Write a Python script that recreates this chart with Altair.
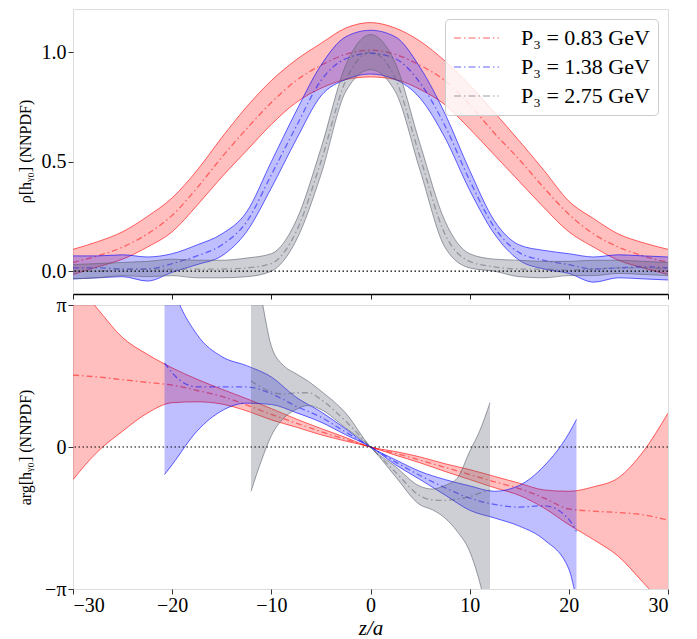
import math
import altair as alt
import pandas as pd

SERIES = ["P₃ = 0.83 GeV", "P₃ = 1.38 GeV", "P₃ = 2.75 GeV"]
COLORS = ["#ff0000", "#0000ff", "#5c6070"]

# ---------------- top panel: |h| ----------------
Z_TOP = [-30, -27.5, -25, -22.5, -20, -17.5, -15, -12.5, -10, -7.5, -5, -2.5, 0,
         2.5, 5, 7.5, 10, 12.5, 15, 17.5, 20, 22.5, 25, 27.5, 30]

RHO_083_LO = [-0.015, 0.02, 0.055, 0.11, 0.18, 0.30, 0.43, 0.55, 0.67, 0.77, 0.835, 0.875, 0.887,
              0.875, 0.83, 0.76, 0.65, 0.53, 0.41, 0.29, 0.18, 0.11, 0.05, 0.015, -0.015]
RHO_083_MID = [0.04, 0.07, 0.11, 0.17, 0.255, 0.38, 0.52, 0.65, 0.77, 0.87, 0.94, 0.99, 1.009,
               0.99, 0.94, 0.87, 0.76, 0.63, 0.51, 0.38, 0.26, 0.17, 0.11, 0.07, 0.04]
RHO_083_HI = [0.10, 0.135, 0.18, 0.25, 0.335, 0.46, 0.61, 0.75, 0.87, 0.965, 1.04, 1.11, 1.135,
              1.11, 1.05, 0.96, 0.85, 0.725, 0.595, 0.46, 0.32, 0.24, 0.17, 0.13, 0.10]

RHO_138_LO = [-0.035, -0.03, -0.025, -0.045, -0.005, 0.03, 0.07, 0.18, 0.38, 0.60, 0.80, 0.875, 0.90,
              0.875, 0.79, 0.61, 0.37, 0.17, 0.05, 0.01, -0.01, -0.05, -0.03, -0.035, -0.04]
RHO_138_MID = [0.015, 0.015, 0.01, 0.01, 0.035, 0.07, 0.12, 0.225, 0.44, 0.66, 0.87, 0.97, 0.995,
               0.97, 0.86, 0.665, 0.415, 0.20, 0.085, 0.05, 0.03, 0.01, 0.015, 0.02, 0.015]
RHO_138_HI = [0.07, 0.07, 0.075, 0.065, 0.08, 0.12, 0.17, 0.27, 0.50, 0.73, 0.94, 1.07, 1.10,
              1.07, 0.93, 0.72, 0.46, 0.23, 0.12, 0.095, 0.08, 0.065, 0.075, 0.07, 0.065]

RHO_275_LO = [-0.035, -0.03, -0.02, -0.025, -0.02, -0.03, -0.03, -0.025, 0.0, 0.14, 0.44, 0.82, 0.92,
              0.82, 0.46, 0.11, 0.015, 0.0, -0.025, -0.03, -0.02, -0.02, -0.01, -0.015, -0.02]
RHO_275_MID = [0.0, 0.0, 0.01, 0.01, 0.01, 0.01, 0.01, 0.015, 0.035, 0.18, 0.50, 0.87, 1.0,
               0.88, 0.52, 0.17, 0.045, 0.02, 0.01, 0.01, 0.005, 0.01, 0.015, 0.015, 0.01]
RHO_275_HI = [0.03, 0.035, 0.04, 0.045, 0.055, 0.05, 0.05, 0.06, 0.08, 0.23, 0.56, 0.94, 1.08,
              0.95, 0.58, 0.23, 0.08, 0.055, 0.05, 0.045, 0.045, 0.05, 0.05, 0.045, 0.04]

# ---------------- bottom panel: arg h ----------------
Z_ARG_083 = [-30, -27.5, -25, -22.5, -20, -17.5, -15, -12.5, -10, -7.5, -5, -2.5, 0,
             2.5, 5, 7.5, 10, 12.5, 15, 17.5, 20, 22.5, 25, 27.5, 30]
ARG_083_LO = [-0.72, -0.10, 0.35, 0.75, 0.98, 1.0, 0.95, 0.80, 0.60, 0.44, 0.27, 0.13, 0.0,
              -0.18, -0.35, -0.54, -0.72, -0.90, -1.07, -1.35, -1.72, -2.05, -2.42, -3.0, -3.6]
ARG_083_MID = [1.59, 1.55, 1.49, 1.43, 1.37, 1.25, 1.12, 0.93, 0.72, 0.53, 0.34, 0.17, 0.0,
               -0.14, -0.29, -0.45, -0.61, -0.77, -0.92, -1.13, -1.37, -1.42, -1.45, -1.50, -1.62]
ARG_083_HI = [3.7, 3.05, 2.42, 2.05, 1.75, 1.50, 1.28, 1.07, 0.85, 0.62, 0.41, 0.21, 0.0,
              -0.10, -0.22, -0.37, -0.50, -0.65, -0.80, -0.95, -0.98, -0.88, -0.68, -0.10, 0.75]

Z_ARG_138 = [-20.77, -20, -17.5, -15, -12.5, -10, -7.5, -5, -2.5, 0,
             2.5, 5, 7.5, 10, 12.5, 15, 17.5, 20, 20.77]
ARG_138_LO = [-0.61, -0.39, 0.35, 0.80, 0.97, 0.94, 0.76, 0.55, 0.27, 0.0,
              -0.39, -0.72, -1.06, -1.40, -1.57, -1.75, -2.05, -2.70, -3.40]
ARG_138_MID = [1.86, 1.64, 1.33, 1.33, 1.33, 1.18, 0.90, 0.66, 0.33, 0.0,
               -0.33, -0.63, -0.90, -1.13, -1.27, -1.33, -1.30, -1.60, -1.87]
ARG_138_HI = [4.2, 3.6, 2.49, 2.0, 1.80, 1.55, 1.10, 0.78, 0.40, 0.0,
              -0.28, -0.54, -0.72, -0.86, -0.98, -0.85, -0.42, 0.30, 0.61]

Z_ARG_275 = [-12.05, -11, -10, -8.75, -7.5, -6.25, -5, -2.5, 0,
             2.5, 5, 6.25, 7.5, 8.75, 10, 11, 12.05]
ARG_275_LO = [-0.98, -0.30, 0.25, 0.64, 0.83, 0.92, 0.83, 0.42, 0.0,
              -0.65, -1.28, -1.39, -1.57, -1.87, -2.31, -2.98, -4.0]
ARG_275_MID = [1.46, 1.32, 1.22, 1.17, 1.20, 1.20, 1.05, 0.57, 0.0,
               -0.55, -1.08, -1.17, -1.18, -1.15, -1.10, -1.02, -0.95]
ARG_275_HI = [4.5, 3.3, 2.23, 1.80, 1.62, 1.45, 1.24, 0.75, 0.0,
              -0.43, -0.87, -0.93, -0.85, -0.69, -0.10, 0.35, 0.98]

X_TICKS = [-30, -20, -10, 0, 10, 20, 30]
RHO_TICKS = [0.0, 0.5, 1.0]
ARG_TICKS = [-math.pi, 0.0, math.pi]
ARG_TICK_LABELS = ["−π", "0", "π"]

FONT = "Liberation Serif"
FRAME = "#5a5a5a"


def frame(z, lo, mid, hi, name):
    return pd.DataFrame({"z": z, "lo": lo, "mid": mid, "hi": hi, "series": name})


top_frames = [
    frame(Z_TOP, RHO_083_LO, RHO_083_MID, RHO_083_HI, SERIES[0]),
    frame(Z_TOP, RHO_138_LO, RHO_138_MID, RHO_138_HI, SERIES[1]),
    frame(Z_TOP, RHO_275_LO, RHO_275_MID, RHO_275_HI, SERIES[2]),
]
bot_frames = [
    frame(Z_ARG_083, ARG_083_LO, ARG_083_MID, ARG_083_HI, SERIES[0]),
    frame(Z_ARG_138, ARG_138_LO, ARG_138_MID, ARG_138_HI, SERIES[1]),
    frame(Z_ARG_275, ARG_275_LO, ARG_275_MID, ARG_275_HI, SERIES[2]),
]

xscale = alt.Scale(domain=[-30, 30], nice=False, zero=False)
cscale = alt.Scale(domain=SERIES, range=COLORS)
FILL_OP = [0.25, 0.25, 0.3]

legend = alt.Legend(
    title=None, orient="top-right", offset=10,
    fillColor="rgba(255,255,255,0.8)", strokeColor="#cccccc", cornerRadius=4,
    padding=8, labelFont=FONT, labelFontSize=22, labelColor="#000000",
    symbolType="stroke", symbolSize=2025, symbolStrokeWidth=1.5,
    symbolDash=[7, 3, 1.5, 3], symbolOpacity=0.4, clipHeight=22, rowPadding=7,
    labelOffset=21,
)


def panel(frames, yscale, xaxis, yaxis, with_legend):
    layers = []
    for i, df in enumerate(frames):
        c = COLORS[i]
        base = alt.Chart(df)
        x = alt.X("z:Q", scale=xscale, axis=xaxis)
        layers.append(base.mark_area(color=c, opacity=FILL_OP[i], interpolate="monotone", clip=True).encode(
            x=x, y=alt.Y("lo:Q", scale=yscale, axis=yaxis), y2="hi:Q"))
        for col in ["lo", "hi"]:
            layers.append(base.mark_line(color=c, opacity=0.6, strokeWidth=1, interpolate="monotone", clip=True).encode(
                x=x, y=alt.Y(f"{col}:Q", scale=yscale, axis=yaxis)))
        mid_enc = dict(x=x, y=alt.Y("mid:Q", scale=yscale, axis=yaxis))
        if with_legend:
            mid_enc["color"] = alt.Color("series:N", scale=cscale, legend=legend)
        else:
            mid_enc["color"] = alt.value(c)
        layers.append(base.mark_line(strokeDash=[6, 3, 1.5, 3], strokeWidth=1.3, opacity=0.5,
                                     interpolate="monotone", clip=True).encode(**mid_enc))
    zero = alt.Chart(pd.DataFrame({"y": [0.0]})).mark_rule(
        color="black", strokeDash=[1.5, 2.5], strokeWidth=1.2).encode(
        y=alt.Y("y:Q", scale=yscale, axis=yaxis))
    layers.append(zero)
    return alt.layer(*layers)


top_xaxis = alt.Axis(values=X_TICKS, labels=False, title=None, ticks=True, tickSize=5,
                     tickColor="#222222", domain=True, domainColor="black", domainWidth=1.4,
                     grid=False)
top_yaxis = alt.Axis(values=RHO_TICKS, format=".1f", title="ρ[hᵧ₀] (NNPDF)", tickSize=5,
                     tickColor="#333333", domain=False, grid=False, labelFont=FONT,
                     labelFontSize=20, labelPadding=2, titleFont=FONT, titleFontSize=16,
                     titleFontWeight="normal", titleX=-40, titleY=142)
bot_xaxis = alt.Axis(values=X_TICKS, format="d", title="z/a", tickSize=5, tickColor="#333333",
                     domain=False, grid=False, labelFont=FONT, labelFontSize=20,
                     labelPadding=1, titleFont=FONT, titleFontSize=21, titleFontStyle="italic",
                     titleFontWeight="normal", titlePadding=2,
                     labelExpr="replace(datum.label, '-', '−')")
label_expr = ("datum.value > 3 ? '" + ARG_TICK_LABELS[2] + "' : (datum.value < -3 ? '"
              + ARG_TICK_LABELS[0] + "' : '" + ARG_TICK_LABELS[1] + "')")
bot_yaxis = alt.Axis(values=ARG_TICKS, labelExpr=label_expr, title="arg[hᵧ₀] (NNPDF)",
                     tickSize=5, tickColor="#333333", domain=False, grid=False, labelFont=FONT,
                     labelFontSize=20, labelPadding=2, titleFont=FONT, titleFontSize=16,
                     titleFontWeight="normal", titleX=-40, titleY=142)

top = panel(top_frames, alt.Scale(domain=[-0.104, 1.197], nice=False, zero=False),
            top_xaxis, top_yaxis, True).properties(width=595, height=285)
bottom = panel(bot_frames, alt.Scale(domain=[-math.pi, math.pi], nice=False, zero=False),
               bot_xaxis, bot_yaxis, False).properties(width=595, height=284)

chart = alt.vconcat(top, bottom, spacing=11, bounds="flush").properties(
    padding={"left": 8, "top": 0, "right": 10, "bottom": 2}
).configure_view(stroke=FRAME, strokeWidth=1.3).configure(background="white")

chart.save("out.html", embed_options={"renderer": "svg", "actions": False})
